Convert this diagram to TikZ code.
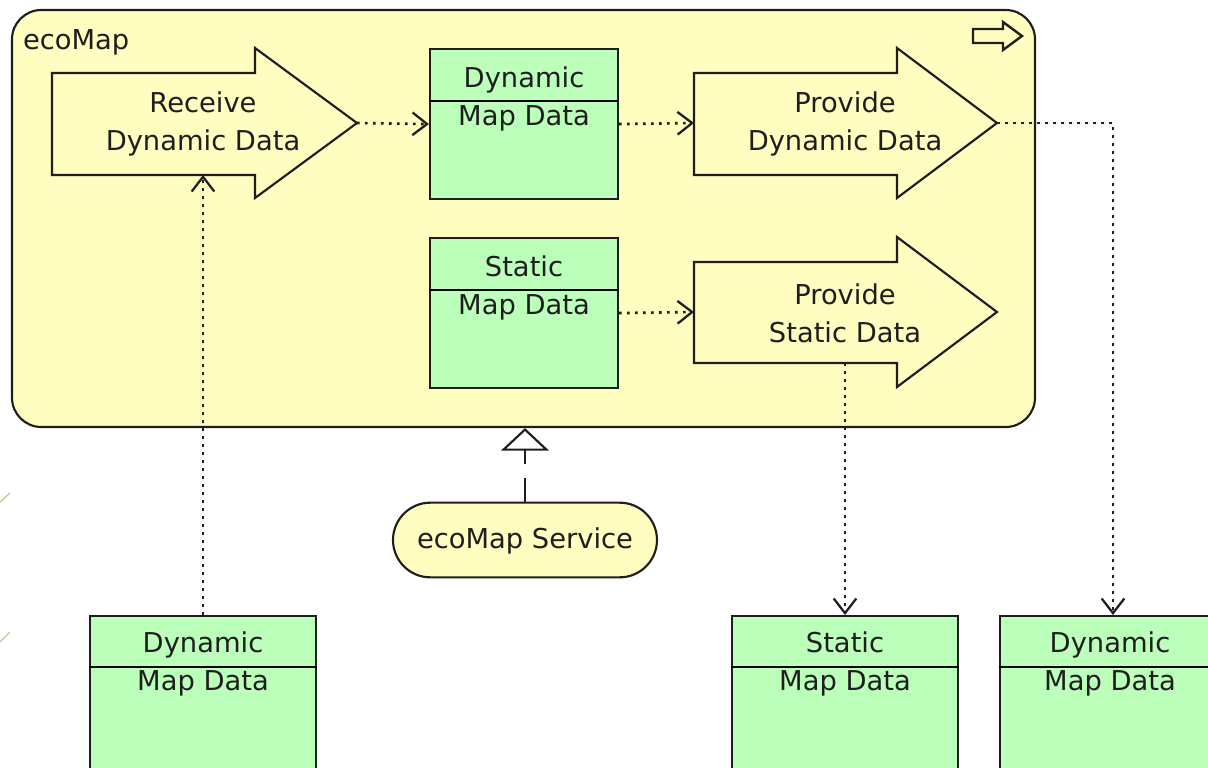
\documentclass[tikz,border=0pt]{standalone}
\usepackage{fontspec}
\setmainfont{DejaVu Sans}
\usetikzlibrary{arrows.meta}

\definecolor{appyellow}{RGB}{255,253,192}
\definecolor{datagreen}{RGB}{187,255,187}
\definecolor{inkgray}{RGB}{30,30,30}
\definecolor{edgegreen}{RGB}{170,212,140}

\tikzset{every picture/.style={line width=1.6pt}}
\tikzset{
  container/.style={draw=inkgray, fill=appyellow, rounded corners=22pt, inner sep=0pt},
  procshape/.style={draw=inkgray, fill=appyellow, line join=miter},
  databox/.style={draw=inkgray, fill=datagreen, inner sep=0pt, minimum width=141pt},
  service/.style={draw=inkgray, fill=appyellow, rounded corners=28pt, minimum width=198pt, minimum height=56pt, inner sep=0pt},
  txt/.style={font=\fontsize{20.5}{28.5}\selectfont, text=inkgray, align=center, inner sep=0pt},
  flow/.style={draw=inkgray, line width=2pt, dash pattern={on 2pt off 4pt}, -{Straight Barb[length=11pt,width=17pt,line width=1.7pt]}},
  realize/.style={draw=inkgray, dash pattern={on 18pt off 10pt}, -{Triangle[open,length=17pt,width=36pt]}}
}

\begin{document}
\begin{tikzpicture}[x=0.75pt,y=0.75pt,yscale=-1,xscale=1]
\useasboundingbox (0,0) rectangle (1208,768);
\clip (0,0) rectangle (1208,768);

% faint edges cut off at the left
\draw[edgegreen, line width=1pt] (0,502) -- (10,493);
\draw[edgegreen, line width=1pt] (0,642) -- (10,632);

% Application component
\node[container, minimum width=767.25pt, minimum height=312.75pt] (ecomap) at (523.5,218.5) {};
\node[txt, anchor=west] (ecomaplbl) at (22,42) {ecoMap};
% icon
\draw[draw=inkgray, line width=1.8pt] (973,29) -- (1003,29) -- (1003,22) -- (1022,36) -- (1003,50) -- (1003,43) -- (973,43) -- cycle;

% Receive Dynamic Data
\draw[procshape] (52,73) -- (255,73) -- (255,48) -- (357,123) -- (255,198) -- (255,175) -- (52,175) -- cycle;
\node[txt] (recv) at (203,124) {Receive\\Dynamic Data};
\coordinate (recvtip) at (357,123);
\coordinate (recvbot) at (203,175);

% Provide Dynamic Data
\draw[procshape] (694,73) -- (897,73) -- (897,48) -- (997,123) -- (897,198) -- (897,175) -- (694,175) -- cycle;
\node[txt] (provdyn) at (845,124) {Provide\\Dynamic Data};
\coordinate (provdyntail) at (694,123);
\coordinate (provdyntip) at (997,123);

% Provide Static Data
\draw[procshape] (694,262) -- (897,262) -- (897,237) -- (997,312) -- (897,387) -- (897,363) -- (694,363) -- cycle;
\node[txt] (provstat) at (845,313) {Provide\\Static Data};
\coordinate (provstattail) at (694,312);
\coordinate (provstatbot) at (845,363);

% Data objects inside
\node[databox, minimum height=112.5pt, anchor=north] (innerdyn) at (524,48) {};
\draw ([yshift=39.75pt]innerdyn.north west) -- ([yshift=39.75pt]innerdyn.north east);
\node[txt] (innerdyntxt) at (524,99) {Dynamic\\Map Data};

\node[databox, minimum height=112.5pt, anchor=north] (innerstat) at (524,237) {};
\draw ([yshift=39.75pt]innerstat.north west) -- ([yshift=39.75pt]innerstat.north east);
\node[txt] (innerstattxt) at (524,288) {Static\\Map Data};

% Service
\node[service] (svc) at (525,540) {};
\node[txt] (svctxt) at (525,541) {ecoMap Service};

% Data objects below
\node[databox, minimum width=169.5pt, minimum height=150pt, anchor=north] (botdyn) at (203,615) {};
\draw ([yshift=39pt]botdyn.north west) -- ([yshift=39pt]botdyn.north east);
\node[txt] (botdyntxt) at (203,664) {Dynamic\\Map Data};

\node[databox, minimum width=169.5pt, minimum height=150pt, anchor=north] (botstat) at (845,615) {};
\draw ([yshift=39pt]botstat.north west) -- ([yshift=39pt]botstat.north east);
\node[txt] (botstattxt) at (845,664) {Static\\Map Data};

\node[databox, minimum width=169.5pt, minimum height=150pt, anchor=north] (botdyntwo) at (1113,615) {};
\draw ([yshift=39pt]botdyntwo.north west) -- ([yshift=39pt]botdyntwo.north east);
\node[txt] (botdyntwotxt) at (1110,664) {Dynamic\\Map Data};

% Flows
\draw[flow] (recvtip) -- (innerdyn.west);
\draw[flow] (innerdyn.east) -- (provdyntail);
\draw[flow] (innerstat.east) -- (provstattail);
\draw[flow] (botdyn.north) -- (recvbot);
\draw[flow] (provdyntip) -| (botdyntwo.north);
\draw[flow] (provstatbot) -- (botstat.north);

% Realization
\draw[realize] (svc.north) -- (svc.north |- ecomap.south);

\end{tikzpicture}
\end{document}
